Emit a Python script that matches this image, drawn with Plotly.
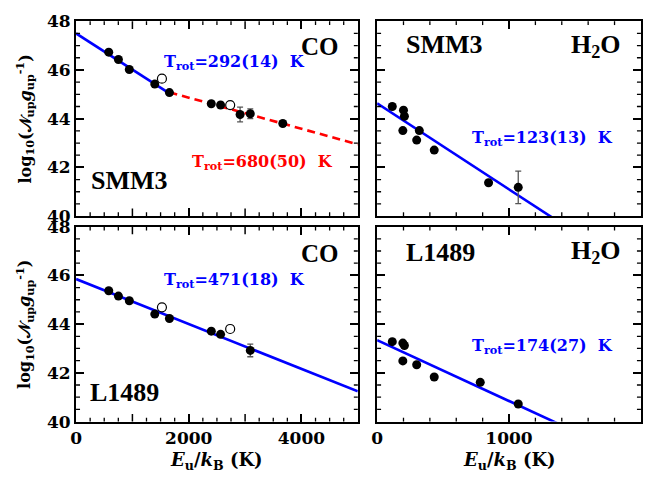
import plotly.graph_objects as go
from plotly.subplots import make_subplots
import numpy as np

LOG_E = np.log10(np.e)

# ---- SMM3, CO ----
smm3_co_E = [580, 752, 945, 1397, 1657, 2400, 2565, 2911, 3092, 3669]
smm3_co_N = [46.73, 46.43, 46.02, 45.42, 45.07, 44.61, 44.56, 44.17, 44.20, 43.80]
smm3_co_err = [0, 0, 0, 0, 0, 0, 0, 0.30, 0.20, 0]
smm3_co_open_E = [1524, 2735]
smm3_co_open_N = [45.64, 44.56]
smm3_co_warm_T, smm3_co_warm_b = 292, 47.50
smm3_co_hot_T, smm3_co_hot_b = 680, 46.14
smm3_co_break = 1657

# ---- SMM3, H2O ----
smm3_h2o_E = [115, 200, 207, 195, 320, 300, 433, 845, 1070]
smm3_h2o_N = [44.50, 44.35, 44.10, 43.51, 43.51, 43.12, 42.71, 41.37, 41.18]
smm3_h2o_err = [0, 0, 0, 0, 0, 0, 0, 0, 0.67]
smm3_h2o_T, smm3_h2o_b = 123, 44.63

# ---- L1489, CO ----
l1489_co_E = [580, 752, 945, 1397, 1657, 2400, 2565, 3092]
l1489_co_N = [45.37, 45.15, 44.96, 44.41, 44.23, 43.71, 43.58, 42.92]
l1489_co_err = [0, 0, 0, 0, 0, 0, 0, 0.26]
l1489_co_open_E = [1524, 2735]
l1489_co_open_N = [44.69, 43.80]
l1489_co_T, l1489_co_b = 471, 45.85

# ---- L1489, H2O ----
l1489_h2o_E = [115, 195, 207, 195, 300, 433, 782, 1070]
l1489_h2o_N = [43.28, 43.22, 43.12, 42.49, 42.33, 41.83, 41.61, 40.72]
l1489_h2o_err = [0, 0, 0, 0, 0, 0, 0.08, 0]
l1489_h2o_T, l1489_h2o_b = 174, 43.34

# extra tick marks beyond the labelled ones
co_unlabelled = [1000, 3000]
co_minor = [v for v in range(250, 5000, 250) if v % 1000 != 0]
h2o_minor = [v for v in range(200, 2000, 200) if v % 1000 != 0]
y_minor = [v for v in np.arange(40.5, 48.0, 0.5) if v % 2 != 0]

BLUE = "#0000ff"
RED = "#ff0000"
SERIF = "DejaVu Serif"
TITLE_SERIF = "Liberation Serif"

fig = make_subplots(rows=2, cols=2)


def fit_line(x0, x1, T, b):
    xs = [float(x0), float(x1)]
    return xs, [b - LOG_E / T * v for v in xs]


def points(E, N, err, row, col):
    fig.add_trace(go.Scatter(
        x=E, y=N, mode="markers",
        marker=dict(size=9, color="black"),
        error_y=dict(type="data", array=err, visible=True,
                     color="#555555", thickness=1.3, width=3),
        showlegend=False), row=row, col=col)


def open_points(E, N, row, col):
    fig.add_trace(go.Scatter(
        x=E, y=N, mode="markers",
        marker=dict(size=9, color="white", line=dict(width=1.2, color="black")),
        showlegend=False), row=row, col=col)


def line(x0, x1, T, b, color, row, col, dash="solid"):
    xs, ys = fit_line(x0, x1, T, b)
    fig.add_trace(go.Scatter(
        x=xs, y=ys, mode="lines",
        line=dict(color=color, width=2.6, dash=dash),
        showlegend=False), row=row, col=col)


# SMM3 CO: two temperature components
line(0, smm3_co_break, smm3_co_warm_T, smm3_co_warm_b, BLUE, 1, 1)
line(smm3_co_break, 5000, smm3_co_hot_T, smm3_co_hot_b, RED, 1, 1, dash="8px,5px")
points(smm3_co_E, smm3_co_N, smm3_co_err, 1, 1)
open_points(smm3_co_open_E, smm3_co_open_N, 1, 1)

# SMM3 H2O
line(0, 2000, smm3_h2o_T, smm3_h2o_b, BLUE, 1, 2)
points(smm3_h2o_E, smm3_h2o_N, smm3_h2o_err, 1, 2)

# L1489 CO
line(0, 5000, l1489_co_T, l1489_co_b, BLUE, 2, 1)
points(l1489_co_E, l1489_co_N, l1489_co_err, 2, 1)
open_points(l1489_co_open_E, l1489_co_open_N, 2, 1)

# L1489 H2O
line(0, 2000, l1489_h2o_T, l1489_h2o_b, BLUE, 2, 2)
points(l1489_h2o_E, l1489_h2o_N, l1489_h2o_err, 2, 2)

W, H = 664, 484
x_left = [70.7 / W, 355.0 / W]
x_right = [374.5 / W, 640.7 / W]
y_top = [1 - 215.0 / H, 1 - 11.7 / H]
y_bot = [1 - 429.3 / H, 1 - 226.0 / H]

tickfont = dict(family=SERIF, size=17, color="black", weight="bold")
base = dict(showline=True, linewidth=2, linecolor="black", mirror="allticks",
            ticks="inside", ticklen=8, tickwidth=1.5, tickcolor="black",
            tickfont=tickfont)

for r, c, dom_x, dom_y in [(1, 1, x_left, y_top), (1, 2, x_right, y_top),
                            (2, 1, x_left, y_bot), (2, 2, x_right, y_bot)]:
    if c == 1:
        fig.update_xaxes(domain=dom_x, range=[0, 5000], tick0=0, dtick=2000,
                         showticklabels=(r == 2), **base, row=r, col=c)
    else:
        fig.update_xaxes(domain=dom_x, range=[0, 2000], tick0=0, dtick=1000,
                         showticklabels=(r == 2), **base, row=r, col=c)
    fig.update_yaxes(domain=dom_y, range=[40, 48], tick0=40, dtick=2,
                     showticklabels=(c == 1), **base, row=r, col=c)

# remaining inward tick marks (unlabelled and minor) on all four frame sides
MAJOR_LEN, MINOR_LEN = 8, 4
shapes = []
panels = [("x", "y", x_left, y_top, co_unlabelled, co_minor),
          ("x2", "y2", x_right, y_top, [], h2o_minor),
          ("x3", "y3", x_left, y_bot, co_unlabelled, co_minor),
          ("x4", "y4", x_right, y_bot, [], h2o_minor)]
for xa, ya, dx, dy, xmaj, xmin in panels:
    wpx = (dx[1] - dx[0]) * W
    hpx = (dy[1] - dy[0]) * H
    f = MINOR_LEN / wpx
    for v in y_minor:
        for e0, e1 in ((0, f), (1, 1 - f)):
            shapes.append(dict(type="line", xref=xa + " domain", yref=ya,
                               x0=e0, x1=e1, y0=float(v), y1=float(v),
                               line=dict(color="black", width=1.3)))
    for vals, ln, lw in ((xmaj, MAJOR_LEN, 1.5), (xmin, MINOR_LEN, 1.3)):
        f = ln / hpx
        for v in vals:
            for e0, e1 in ((0, f), (1, 1 - f)):
                shapes.append(dict(type="line", xref=xa, yref=ya + " domain",
                                   x0=v, x1=v, y0=e0, y1=e1,
                                   line=dict(color="black", width=lw)))

annotations = []


def label(text, x, y, xref, yref, size, color="black", family=SERIF,
          xanchor="left", yanchor="middle"):
    annotations.append(dict(text=text, x=x, y=y, xref=xref, yref=yref,
                            showarrow=False, xanchor=xanchor, yanchor=yanchor,
                            font=dict(family=family, size=size, color=color)))


def trot(T, err):
    return "<b>T<sub>rot</sub>=%d(%d)  K</b>" % (T, err)


# top left: SMM3 CO
label("<b>CO</b>", 4329, 46.95, "x", "y", 25, family=TITLE_SERIF, xanchor="center")
label(trot(292, 14), 1530, 46.3, "x", "y", 16, color=BLUE)
label(trot(680, 50), 2020, 42.2, "x", "y", 16, color=RED)
label("<b>SMM3</b>", 222, 41.45, "x", "y", 26, family=TITLE_SERIF)

# top right: SMM3 H2O
label("<b>SMM3</b>", 207, 47.05, "x2", "y2", 26, family=TITLE_SERIF)
label("<b>H<sub>2</sub>O</b>", 1867, 47.0, "x2", "y2", 26, family=TITLE_SERIF,
      xanchor="right")
label(trot(123, 13), 702, 43.2, "x2", "y2", 16, color=BLUE)

# bottom left: L1489 CO
label("<b>CO</b>", 4329, 46.9, "x3", "y3", 25, family=TITLE_SERIF, xanchor="center")
label(trot(471, 18), 1526, 45.8, "x3", "y3", 16, color=BLUE)
label("<b>L1489</b>", 217, 41.2, "x3", "y3", 26, family=TITLE_SERIF)

# bottom right: L1489 H2O
label("<b>L1489</b>", 207, 46.95, "x4", "y4", 26, family=TITLE_SERIF)
label("<b>H<sub>2</sub>O</b>", 1867, 46.95, "x4", "y4", 26, family=TITLE_SERIF,
      xanchor="right")
label(trot(174, 27), 702, 43.1, "x4", "y4", 16, color=BLUE)

# axis titles
ytitle = "<b>log<sub>10</sub>(𝒩<sub>up</sub><i>g</i><sub>up</sub><sup>-1</sup>)</b>"
for dom in (y_top, y_bot):
    annotations.append(dict(text=ytitle, x=19 / W, y=(dom[0] + dom[1]) / 2,
                            xref="paper", yref="paper", showarrow=False,
                            textangle=-90, xanchor="center", yanchor="middle",
                            font=dict(family=SERIF, size=16, color="black")))
xtitle = "<b><i>E</i><sub>u</sub>/<i>k</i><sub>B</sub> (K)</b>"
for dom in (x_left, x_right):
    annotations.append(dict(text=xtitle, x=(dom[0] + dom[1]) / 2, y=1 - 470 / H,
                            xref="paper", yref="paper", showarrow=False,
                            xanchor="center", yanchor="middle",
                            font=dict(family=SERIF, size=18, color="black")))

fig.update_layout(width=W, height=H, margin=dict(l=0, r=0, t=0, b=0),
                  paper_bgcolor="white", plot_bgcolor="white",
                  annotations=annotations, shapes=shapes, showlegend=False)

fig.write_html("out.html")
